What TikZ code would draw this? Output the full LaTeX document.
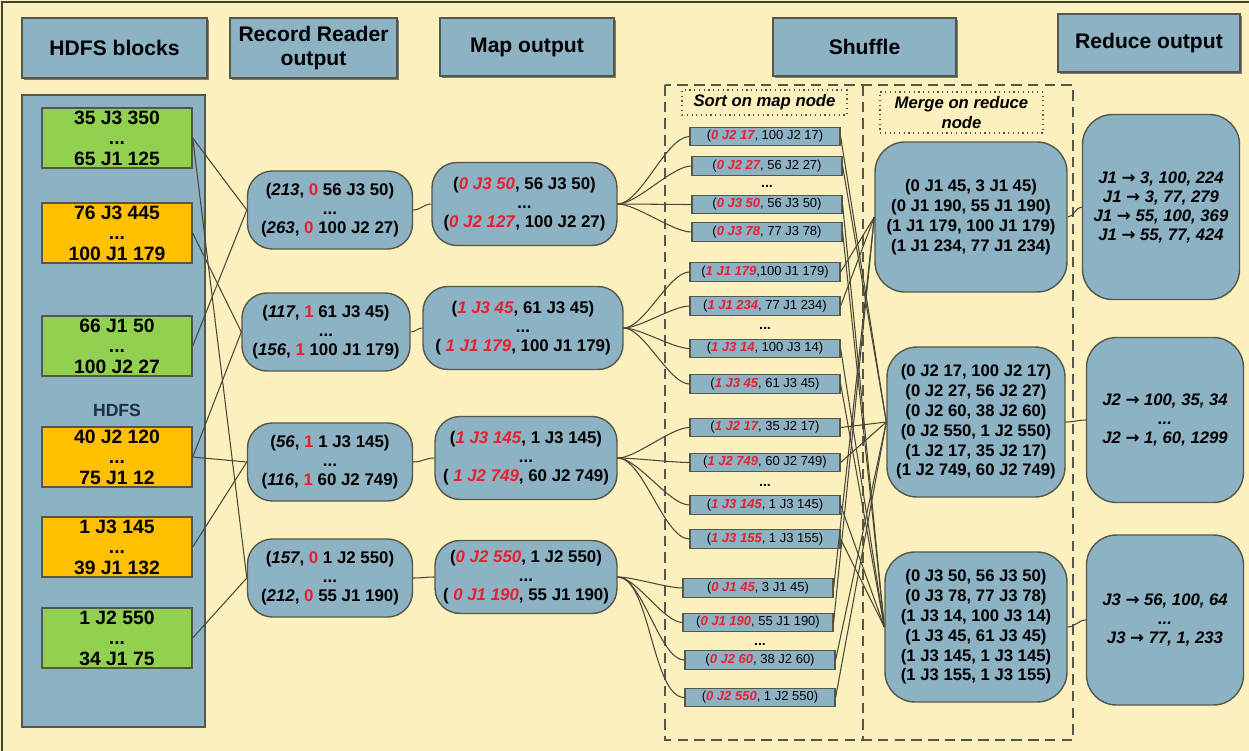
\documentclass[tikz,border=0pt]{standalone}
\usepackage{fontspec}
\setmainfont{Liberation Sans}
\newfontfamily\arrowfont{DejaVu Sans}
\usepackage{tikz}
\usetikzlibrary{shapes.geometric,arrows,shadows,positioning}

\definecolor{bgyellow}{RGB}{252,241,190}
\definecolor{boxblue}{RGB}{140,178,196}
\definecolor{edgegray}{RGB}{84,88,72}
\definecolor{blockgreen}{RGB}{146,208,80}
\definecolor{blockorange}{RGB}{255,192,0}
\definecolor{keyred}{RGB}{232,32,44}
\definecolor{wiregray}{RGB}{72,72,58}
\definecolor{hdfsnavy}{RGB}{30,48,66}

\newcommand{\redkey}[1]{\textcolor{keyred}{\textit{#1}}}
\newcommand{\sortkey}[1]{\textcolor{keyred}{\bfseries\itshape #1}}
\newcommand{\jto}{{\arrowfont\bfseries\upshape →}}

\begin{document}
\begin{tikzpicture}[x=0.02cm,y=-0.02cm,
  header/.style={draw=edgegray,line width=0.8pt,fill=boxblue,minimum height=1.2cm,align=center,
    font=\fontsize{12}{14}\selectfont\bfseries,
    drop shadow={shadow xshift=1.2pt,shadow yshift=-1.2pt,opacity=0.7,fill=black!70}},
  container/.style={draw=edgegray,line width=0.8pt,fill=boxblue},
  block/.style={draw=edgegray,line width=0.8pt,minimum width=3cm,minimum height=1.2cm,inner sep=0pt,
    align=center,font=\fontsize{11}{11.6}\selectfont\bfseries},
  rrbox/.style={draw=edgegray,line width=0.8pt,fill=boxblue,rounded corners=0.5cm,minimum width=3.3cm,
    minimum height=1.56cm,align=center,font=\fontsize{9.6}{11}\selectfont\bfseries},
  mapbox/.style={rrbox,minimum height=1.66cm},
  sortbox/.style={draw=edgegray,line width=0.7pt,fill=boxblue,minimum width=3cm,minimum height=0.37cm,
    inner sep=0pt,font=\fontsize{7.4}{8}\selectfont},
  dotsmark/.style={inner sep=0pt,font=\fontsize{8}{8}\selectfont\bfseries},
  steplabel/.style={draw=edgegray,dotted,line width=0.7pt,align=center,inner sep=0pt,
    font=\fontsize{9.5}{11.5}\selectfont\bfseries\itshape},
  mergebox/.style={draw=edgegray,line width=0.8pt,fill=boxblue,rounded corners=0.6cm,minimum height=3cm,
    align=center,font=\fontsize{9.5}{11.3}\selectfont\bfseries},
  reducebox/.style={mergebox,minimum width=3.14cm,font=\fontsize{9.5}{10.8}\selectfont\bfseries\itshape},
  wire/.style={draw=wiregray,line width=0.6pt},
  shuffleframe/.style={draw=edgegray,dashed,dash pattern=on 6pt off 3.5pt,line width=0.8pt}]

\useasboundingbox (0,0) rectangle (1249,751);
\fill[bgyellow] (0,0) rectangle (1249,751);
\draw[black!75,line width=1.5pt] (2,751) -- (2,2) -- (1249,2);

\node[header,minimum width=3.7cm] (hblocks) at (114.5,48) {HDFS blocks};
\node[header,minimum width=3.34cm] (hreader) at (313.5,48) {Record Reader\\output};
\node[header,minimum width=3.48cm,minimum height=1.16cm] (hmap) at (527,47) {Map output};
\node[header,minimum width=3.66cm,minimum height=1.16cm] (hshuffle) at (864.5,47) {Shuffle};
\node[header,minimum width=3.64cm,minimum height=1.16cm] (hreduce) at (1149,43) {Reduce output};

\node[container,minimum width=3.66cm,minimum height=12.64cm] (hdfs) at (113.5,411) {};
\node[font=\fontsize{10}{10}\selectfont\bfseries,text=hdfsnavy] (hdfslbl) at (117,410) {HDFS};

\node[block,fill=blockgreen] (b1) at (117,138) {35 J3 350\\...\\65 J1 125};
\node[block,fill=blockorange] (b2) at (117,233) {76 J3 445\\...\\100 J1 179};
\node[block,fill=blockgreen] (b3) at (117,346) {66 J1 50\\...\\100 J2 27};
\node[block,fill=blockorange] (b4) at (117,457) {40 J2 120\\...\\75 J1 12};
\node[block,fill=blockorange] (b5) at (117,547) {1 J3 145\\...\\39 J1 132};
\node[block,fill=blockgreen] (b6) at (117,638) {1 J2 550\\...\\34 J1 75};

\node[rrbox] (rr1) at (330,210) {(\textit{213}, \textcolor{keyred}{0} 56 J3 50)\\...\\(\textit{263}, \textcolor{keyred}{0} 100 J2 27)};
\node[rrbox,minimum width=3.36cm] (rr2) at (326,332) {(\textit{117}, \textcolor{keyred}{1} 61 J3 45)\\...\\(\textit{156}, \textcolor{keyred}{1} 100 J1 179)};
\node[rrbox] (rr3) at (330,462) {(\textit{56}, \textcolor{keyred}{1} 1 J3 145)\\...\\(\textit{116}, \textcolor{keyred}{1} 60 J2 749)};
\node[rrbox] (rr4) at (330,578) {(\textit{157}, \textcolor{keyred}{0} 1 J2 550)\\...\\(\textit{212}, \textcolor{keyred}{0} 55 J1 190)};

\node[mapbox,minimum width=3.7cm] (m1) at (524.5,204) {(\redkey{0 J3 50}, 56 J3 50)\\...\\(\redkey{0 J2 127}, 100 J2 27)};
\node[mapbox,minimum width=4cm] (m2) at (523,328) {(\redkey{1 J3 45}, 61 J3 45)\\...\\( \redkey{1 J1 179}, 100 J1 179)};
\node[mapbox,minimum width=3.64cm] (m3) at (526,458) {(\redkey{1 J3 145}, 1 J3 145)\\...\\( \redkey{1 J2 749}, 60 J2 749)};
\node[mapbox,minimum width=3.64cm,minimum height=1.46cm] (m4) at (526,577) {(\redkey{0 J2 550}, 1 J2 550)\\...\\( \redkey{0 J1 190}, 55 J1 190)};

\draw[shuffleframe] (665,85) rectangle (1073,740);
\draw[shuffleframe] (863,85) -- (863,740);
\node[steplabel,minimum width=3.3cm,minimum height=0.5cm] (sortlbl) at (764.5,102.5) {Sort on map node};
\node[steplabel,minimum width=3.26cm,minimum height=0.82cm] (mergelbl) at (961.5,112.5) {Merge on reduce\\node};

\node[sortbox] (s1) at (765,136.5) {(\sortkey{0 J2 17}, 100 J2 17)};
\node[sortbox] (s2) at (767,166) {(\sortkey{0 J2 27}, 56 J2 27)};
\node[dotsmark] (d1) at (767,186) {...};
\node[sortbox] (s3) at (767,204.5) {(\sortkey{0 J3 50}, 56 J3 50)};
\node[sortbox] (s4) at (767,232) {(\sortkey{0 J3 78}, 77 J3 78)};
\node[sortbox] (s5) at (765,272) {(\sortkey{1 J1 179},100 J1 179)};
\node[sortbox] (s6) at (765,306) {(\sortkey{1 J1 234}, 77 J1 234)};
\node[dotsmark] (d2) at (765,328) {...};
\node[sortbox] (s7) at (765,348.5) {(\sortkey{1 J3 14}, 100 J3 14)};
\node[sortbox] (s8) at (765,384) {(\sortkey{1 J3 45}, 61 J3 45)};
\node[sortbox] (s9) at (765,427.5) {(\sortkey{1 J2 17}, 35 J2 17)};
\node[sortbox] (s10) at (765,462.5) {(\sortkey{1 J2 749}, 60 J2 749)};
\node[dotsmark] (d3) at (765,485) {...};
\node[sortbox] (s11) at (765,505) {(\sortkey{1 J3 145}, 1 J3 145)};
\node[sortbox] (s12) at (765,539) {(\sortkey{1 J3 155}, 1 J3 155)};
\node[sortbox] (s13) at (758,588) {(\sortkey{0 J1 45}, 3 J1 45)};
\node[sortbox] (s14) at (758,622.5) {(\sortkey{0 J1 190}, 55 J1 190)};
\node[dotsmark] (d4) at (760,644) {...};
\node[sortbox] (s15) at (760,660) {(\sortkey{0 J2 60}, 38 J2 60)};
\node[sortbox] (s16) at (760,697.5) {(\sortkey{0 J2 550}, 1 J2 550)};

\node[mergebox,minimum width=3.84cm] (g1) at (971,217) {(0 J1 45, 3 J1 45)\\(0 J1 190, 55 J1 190)\\(1 J1 179, 100 J1 179)\\(1 J1 234, 77 J1 234)};
\node[mergebox,minimum width=3.56cm] (g2) at (976,422) {(0 J2 17, 100 J2 17)\\(0 J2 27, 56 J2 27)\\(0 J2 60, 38 J2 60)\\(0 J2 550, 1 J2 550)\\(1 J2 17, 35 J2 17)\\(1 J2 749, 60 J2 749)};
\node[mergebox,minimum width=3.64cm] (g3) at (976,627) {(0 J3 50, 56 J3 50)\\(0 J3 78, 77 J3 78)\\(1 J3 14, 100 J3 14)\\(1 J3 45, 61 J3 45)\\(1 J3 145, 1 J3 145)\\(1 J3 155, 1 J3 155)};

\node[reducebox,minimum height=3.7cm] (r1) at (1161,207) {J1 \jto{} 3, 100, 224\\J1 \jto{} 3, 77, 279\\J1 \jto{} 55, 100, 369\\J1 \jto{} 55, 77, 424};
\node[reducebox,minimum height=3.3cm] (r2) at (1165,420) {J2 \jto{} 100, 35, 34\\...\\J2 \jto{} 1, 60, 1299};
\node[reducebox,minimum height=3.4cm] (r3) at (1165,620) {J3 \jto{} 56, 100, 64\\...\\J3 \jto{} 77, 1, 233};

\foreach \b/\r in {b1/rr1,b3/rr1,b2/rr2,b4/rr2,b4/rr3,b5/rr3,b1/rr4,b6/rr4} {
\draw[wire] (\b.east) -- (\r.west);
}
\foreach \i in {1,2,3,4} {
\draw[wire] (rr\i.east) to[out=0,in=180] (m\i.west);
}
\foreach \m/\s in {1/1,1/2,1/3,1/4,2/5,2/6,2/7,2/8,3/9,3/10,3/11,3/12,4/13,4/14,4/15,4/16} {
\draw[wire] (m\m.east) to[out=0,in=180,looseness=0.6] (s\s.west);
}
\foreach \s/\g in {1/2,2/2,3/3,4/3,5/1,6/1,7/3,8/3,9/2,10/2,11/3,12/3,13/1,14/1,15/2,16/2} {
\draw[wire] (s\s.east) -- (g\g.west);
}
\foreach \i in {1,2,3} {
\draw[wire] (g\i.east) to[out=0,in=180] (r\i.west);
}
\end{tikzpicture}
\end{document}
